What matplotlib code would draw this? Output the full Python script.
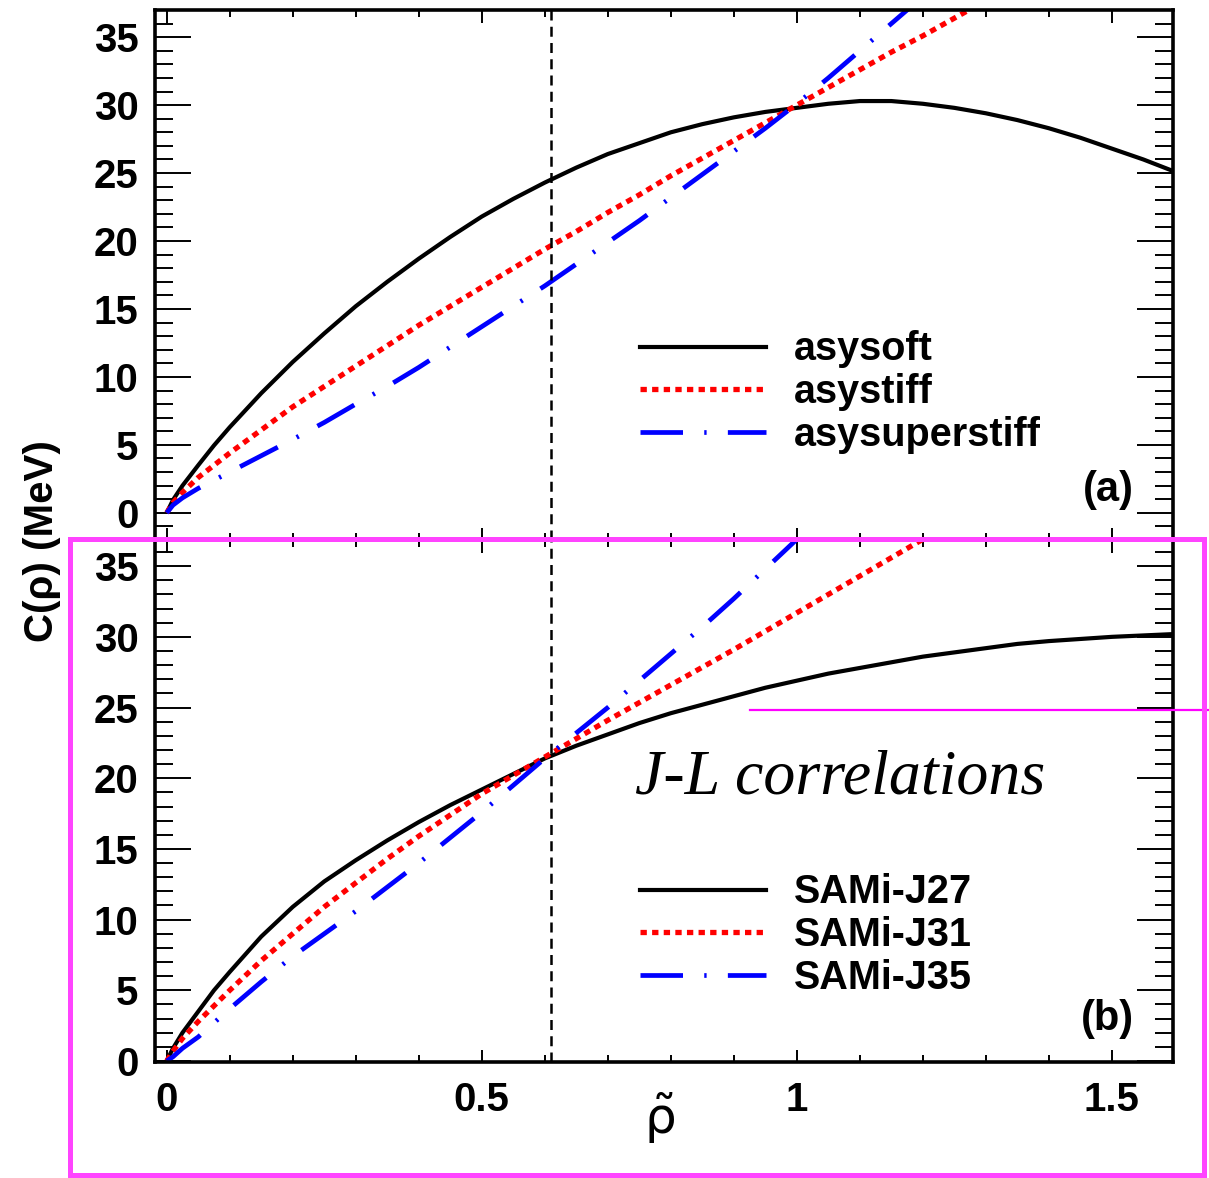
import matplotlib
matplotlib.use("Agg")
import matplotlib.pyplot as plt
import numpy as np
from matplotlib.ticker import MultipleLocator, FuncFormatter
from matplotlib.lines import Line2D
from matplotlib.patches import Rectangle

# reduced density grid (rho / rho0)
rho_grid = [0, 0.01, 0.025, 0.05, 0.075, 0.1, 0.15, 0.2, 0.25, 0.3, 0.35,
            0.4, 0.45, 0.5, 0.55, 0.6, 0.65, 0.7, 0.75, 0.8, 0.85, 0.9,
            0.95, 1.0, 1.05, 1.1, 1.15, 1.2, 1.25, 1.3, 1.35, 1.4, 1.45,
            1.5, 1.55, 1.6]

# panel (a): asy-EoS parametrisations
asysoft = [0, 0.95, 2.0, 3.5, 4.96, 6.3, 8.8, 11.1, 13.2, 15.2, 17.0, 18.7,
           20.3, 21.8, 23.1, 24.3, 25.4, 26.4, 27.2, 28.0, 28.6, 29.1, 29.5,
           29.8, 30.1, 30.3, 30.3, 30.1, 29.8, 29.4, 28.9, 28.3, 27.6, 26.8,
           26.0, 25.1]
asystiff = [0, 0.75, 1.5, 2.6, 3.5, 4.4, 6.1, 7.8, 9.3, 10.8, 12.3, 13.8,
            15.2, 16.6, 18.0, 19.4, 20.7, 22.1, 23.4, 24.8, 26.1, 27.4, 28.7,
            30.0, 31.3, 32.6, 33.9, 35.1, 36.4, 37.7]
asysuperstiff = [0, 0.57, 1.1, 1.8, 2.4, 3.0, 4.2, 5.4, 6.65, 8.0, 9.3, 10.7,
                 12.2, 13.7, 15.2, 16.7, 18.3, 19.9, 21.5, 23.2, 24.9, 26.6,
                 28.3, 30.1, 32.0, 34.0, 36.0, 38.0]

# panel (b): SAMi-J functionals
sami_j27 = [0, 0.9, 2.0, 3.5, 5.0, 6.3, 8.8, 10.9, 12.7, 14.2, 15.6, 16.9,
            18.1, 19.2, 20.3, 21.4, 22.3, 23.1, 23.9, 24.6, 25.2, 25.8, 26.4,
            26.9, 27.4, 27.8, 28.2, 28.6, 28.9, 29.2, 29.5, 29.7, 29.85, 30.0,
            30.1, 30.2]
sami_j31 = [0, 0.7, 1.6, 2.8, 3.9, 5.0, 7.1, 9.0, 10.9, 12.6, 14.3, 15.9,
            17.4, 18.9, 20.2, 21.5, 22.8, 24.1, 25.35, 26.6, 27.85, 29.1,
            30.4, 31.7, 33.0, 34.3, 35.6, 36.9, 38.2]
sami_j35 = [0, 0.3, 0.9, 1.7, 2.7, 3.7, 5.6, 7.4, 9.0, 10.6, 12.3, 14.0,
            15.8, 17.6, 19.5, 21.4, 23.2, 25.0, 26.9, 28.8, 30.7, 32.7, 34.8,
            36.9, 39.0]

rho_cut = 0.61

labels_a = ["asysoft", "asystiff", "asysuperstiff"]
labels_b = ["SAMi-J27", "SAMi-J31", "SAMi-J35"]

FONT = "Liberation Sans"
W, H = 1209, 1178
fig = plt.figure(figsize=(W / 100, H / 100), dpi=100)


def px_box(x0, y0, x1, y1):
    return [x0 / W, 1 - y1 / H, (x1 - x0) / W, (y1 - y0) / H]


ax_a = fig.add_axes(px_box(155, 10, 1173, 540))
ax_b = fig.add_axes(px_box(155, 540, 1173, 1062))

styles = [
    dict(color="black", lw=3.0, ls="-"),
    dict(color="#ff0000", lw=3.8, ls=(0, (1.2, 1.0))),
    dict(color="#0000ff", lw=3.4, ls=(0, (9, 4.5, 0.5, 4.5))),
]


def draw_panel(ax, series, labels, ylim, tag):
    for y, st in zip(series, styles):
        ax.plot(rho_grid[:len(y)], y, solid_capstyle="butt",
                dash_capstyle="butt", solid_joinstyle="round", **st)
    ax.axvline(rho_cut, color="black", lw=1.8, ls=(0, (4, 2.5)))
    ax.set_xlim(-0.0186, 1.597)
    ax.set_ylim(*ylim)
    ax.xaxis.set_major_locator(MultipleLocator(0.5))
    ax.xaxis.set_minor_locator(MultipleLocator(0.1))
    ax.yaxis.set_major_locator(MultipleLocator(5))
    ax.yaxis.set_minor_locator(MultipleLocator(1))
    ax.xaxis.set_major_formatter(FuncFormatter(lambda v, p: "%g" % v))
    ax.tick_params(axis="both", which="both", direction="in",
                   top=True, right=True, width=1.4, colors="black")
    ax.tick_params(axis="y", which="major", length=26, pad=12)
    ax.tick_params(axis="y", which="minor", length=13)
    ax.tick_params(axis="x", which="major", length=9, pad=14)
    ax.tick_params(axis="x", which="minor", length=5)
    for sp in ax.spines.values():
        sp.set_linewidth(2.6)
    for lab in ax.get_xticklabels() + ax.get_yticklabels():
        lab.set_fontfamily(FONT)
        lab.set_fontweight("bold")
        lab.set_fontsize(29)
    handles = [Line2D([], [], **st) for st in styles]
    ax.legend(handles, labels, loc="center left", frameon=False,
              bbox_to_anchor=(0.476, tag[2]), borderpad=0,
              borderaxespad=0, handlelength=3.2, handletextpad=0.7,
              labelspacing=0.12,
              prop=dict(family=FONT, weight="bold", size=28.5))
    ax.text(0.962, tag[1], tag[0], transform=ax.transAxes, ha="right",
            va="center", fontsize=30, fontweight="bold", family=FONT)


draw_panel(ax_a, [asysoft, asystiff, asysuperstiff], labels_a, (-2.0, 37.0),
           ("(a)", 0.094, 0.279))
draw_panel(ax_b, [sami_j27, sami_j31, sami_j35], labels_b, (-0.07, 36.85),
           ("(b)", 0.082, 0.243))
ax_a.tick_params(axis="x", labelbottom=False)

fig.text(42 / W, 1 - 541 / H, "C(\u03c1) (MeV)", rotation=90, ha="center",
         va="center", fontsize=29, fontweight="bold", family=FONT)
fig.text(660 / W, 1 - 1118 / H, r"$\tilde{\mathrm{\rho}}$", ha="center",
         va="center", fontsize=36)

# magenta annotation overlay
fig.patches.append(Rectangle((70 / W, 1 - 1175 / H), (1204 - 70) / W,
                             (1175 - 539) / H, transform=fig.transFigure,
                             fill=False, edgecolor="#ff44ff", lw=3.6,
                             zorder=10))
fig.lines.append(Line2D([750 / W, 1.0], [1 - 710 / H, 1 - 710 / H],
                        transform=fig.transFigure, color="#ff00ff", lw=1.6,
                        zorder=10))
fig.text(635 / W, 1 - 778 / H, "J-L correlations", ha="left", va="center",
         fontsize=46, style="italic", family="Liberation Serif")

fig.savefig("out.png", dpi=100)
